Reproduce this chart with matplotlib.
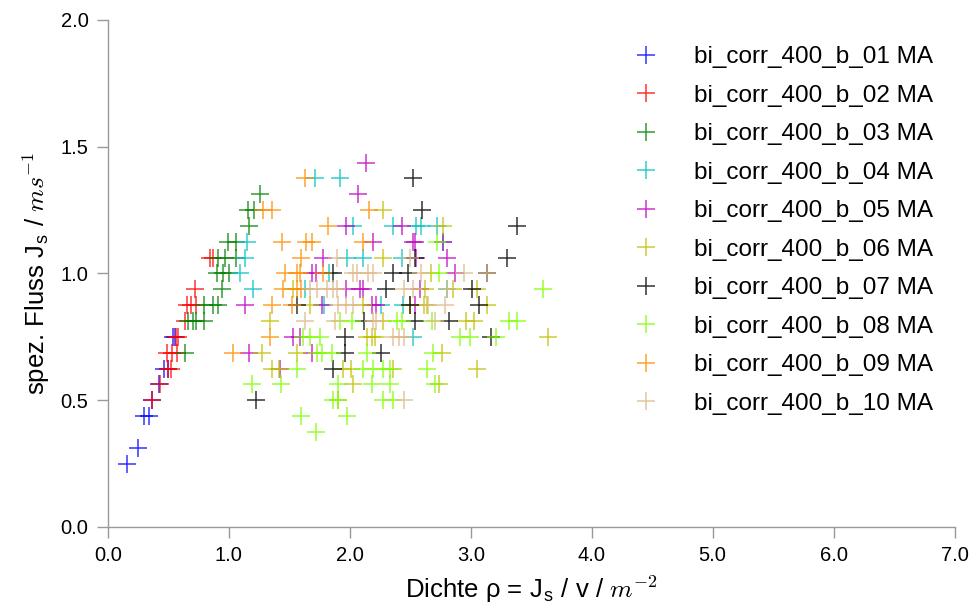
import numpy as np
from matplotlib import pyplot as plt

plt.rcParams['font.family'] = ['Liberation Sans', 'DejaVu Sans']
plt.rcParams['mathtext.fontset'] = 'cm'

labels = ['bi_corr_400_b_%02d MA' % i for i in range(1, 11)]
colors = ['#0000ff', '#ff0000', '#008000', '#00c0c0', '#c000c0',
          '#bfbf00', '#000000', '#7fff00', '#ff8c00', '#deb887']

# dichte (x) / fluss (y) je Messung
x01 = [0.16, 0.25, 0.30, 0.34, 0.36, 0.42, 0.46, 0.50, 0.54, 0.55]
y01 = [0.25, 0.3125, 0.4375, 0.4375, 0.5, 0.5625, 0.625, 0.625, 0.75, 0.75]

x02 = [0.36, 0.43, 0.50, 0.52, 0.49, 0.53, 0.57, 0.56, 0.58, 0.64, 0.65, 0.69, 0.73, 0.72, 0.84, 0.87]
y02 = [0.5, 0.5625, 0.625, 0.625, 0.6875, 0.6875, 0.6875, 0.75, 0.75, 0.8125, 0.875, 0.875, 0.875, 0.9375, 1.0625, 1.0625]

x03 = [0.64, 0.66, 0.70, 0.73, 0.79, 0.79, 0.87, 0.91, 0.94, 0.90, 0.95, 1.00, 0.91, 0.97, 1.06,
       0.99, 1.06, 1.17, 1.16, 1.21, 1.26]
y03 = [0.6875, 0.8125, 0.8125, 0.8125, 0.8125, 0.875, 0.875, 0.875, 0.9375, 1.0, 1.0, 1.0, 1.0625, 1.0625, 1.0625,
       1.125, 1.125, 1.1875, 1.25, 1.25, 1.3125]

x04 = [1.09, 1.13, 1.15, 1.20, 1.71, 1.92, 2.03, 2.36, 2.55, 2.59, 2.72, 2.77, 1.98, 2.11, 2.43,
       1.83, 1.63, 1.79, 2.26, 2.44, 2.52, 2.80]
y04 = [1.0, 1.0625, 1.125, 0.9375, 1.375, 1.375, 1.1875, 1.1875, 1.1875, 1.1875, 1.1875, 1.125, 1.0625, 1.0625, 1.0625,
       1.0, 0.9375, 0.875, 0.875, 0.875, 0.75, 0.9375]

x05 = [2.13, 2.07, 1.97, 2.43, 2.19, 2.52, 2.54, 2.77, 1.78, 2.55, 2.80, 1.69, 1.72, 2.87, 1.97,
       2.08, 2.11, 2.58, 1.13, 1.77, 2.18, 2.22, 2.54, 1.53, 1.59, 1.17, 1.69, 1.42]
y05 = [1.4375, 1.3125, 1.1875, 1.1875, 1.125, 1.125, 1.125, 1.125, 1.0625, 1.0625, 1.0625, 1.0, 1.0, 1.0, 0.9375,
       0.9375, 0.9375, 0.9375, 0.875, 0.875, 0.875, 0.875, 0.875, 0.75, 0.75, 0.6875, 0.6875, 0.625]

x06 = [2.27, 2.77, 2.27, 2.67, 1.53, 2.62, 2.85, 3.05, 1.67, 2.11, 2.50, 2.61, 2.64, 3.13, 1.34, 2.27, 2.96,
       3.03, 2.14, 2.18, 2.21, 3.64, 1.27, 1.56, 2.76, 1.36, 1.41, 1.94, 2.01, 2.36, 3.05, 2.03, 2.74, 1.90]
y06 = [1.25, 1.1875, 1.0625, 1.0, 0.9375, 0.9375, 0.9375, 0.9375, 0.875, 0.875, 0.875, 0.875, 0.875, 0.875, 0.8125, 0.8125, 0.8125,
       0.8125, 0.75, 0.75, 0.75, 0.75, 0.6875, 0.6875, 0.6875, 0.625, 0.625, 0.625, 0.625, 0.625, 0.625, 0.5625, 0.5625, 0.5]

x07 = [2.52, 2.60, 3.38, 3.30, 2.54, 1.86, 2.36, 2.48, 3.13, 2.30, 3.01, 1.56, 2.50, 3.07, 2.12, 2.54,
       2.82, 1.96, 3.17, 1.96, 2.26, 1.86, 1.22]
y07 = [1.375, 1.25, 1.1875, 1.0625, 1.0625, 1.0, 1.0, 1.0, 1.0, 0.9375, 0.9375, 0.875, 0.875, 0.875, 0.8125, 0.8125,
       0.8125, 0.75, 0.75, 0.6875, 0.6875, 0.625, 0.5]

x08 = [2.72, 2.74, 3.60, 1.92, 2.02, 2.39, 2.43, 2.68, 3.32, 3.38, 1.61, 1.67, 1.75, 2.91, 2.99, 3.21,
       1.73, 1.77, 1.85, 2.14, 2.69, 1.56, 2.11, 2.19, 2.27, 2.33, 2.64, 1.19, 1.43, 1.90, 2.18, 2.33,
       2.70, 1.86, 1.90, 2.27, 2.36, 1.60, 1.98, 1.72]
y08 = [1.125, 1.0, 0.9375, 0.8125, 0.8125, 0.8125, 0.8125, 0.8125, 0.8125, 0.8125, 0.75, 0.75, 0.75, 0.75, 0.75, 0.75,
       0.6875, 0.6875, 0.6875, 0.6875, 0.6875, 0.625, 0.625, 0.625, 0.625, 0.625, 0.625, 0.5625, 0.5625, 0.5625, 0.5625, 0.5625,
       0.5625, 0.5, 0.5, 0.5, 0.5, 0.4375, 0.4375, 0.375]

x09 = [1.63, 1.28, 1.36, 2.16, 1.82, 1.44, 1.64, 1.69, 2.11, 1.60, 1.46, 1.56, 1.59, 1.78, 1.45,
       1.56, 1.60, 1.36, 1.52, 1.34, 1.03]
y09 = [1.375, 1.25, 1.25, 1.25, 1.1875, 1.125, 1.125, 1.125, 1.125, 1.0625, 1.0, 1.0, 1.0, 1.0, 0.9375,
       0.9375, 0.9375, 0.875, 0.875, 0.75, 0.6875]

x10 = [1.89, 2.50, 2.03, 2.06, 2.15, 2.19, 2.59, 2.94, 3.13, 1.67, 1.73, 1.81, 1.86, 1.89, 2.45, 2.52,
       2.80, 1.90, 1.97, 2.03, 2.65, 2.79, 1.63, 1.88, 2.19, 2.22, 2.70, 2.36, 2.41, 2.45, 2.45]
y10 = [1.0625, 1.0625, 1.0, 1.0, 1.0, 1.0, 1.0, 1.0, 1.0, 0.9375, 0.9375, 0.9375, 0.9375, 0.9375, 0.9375, 0.9375,
       0.9375, 0.875, 0.875, 0.875, 0.875, 0.875, 0.8125, 0.8125, 0.8125, 0.8125, 0.8125, 0.75, 0.75, 0.75, 0.5]

xs = [x01, x02, x03, x04, x05, x06, x07, x08, x09, x10]
ys = [y01, y02, y03, y04, y05, y06, y07, y08, y09, y10]

fig = plt.figure(figsize=(9.73, 6.05), dpi=100)
ax = fig.add_axes([0.111, 0.129, 0.870, 0.838])

for x, y, c, lab in zip(xs, ys, colors, labels):
    ax.plot(x, y, '+', color=c, ms=13, mew=1.1, alpha=0.8, label=lab)

ax.set_xlim(0, 7)
ax.set_ylim(0, 2)
ax.set_xticks(np.arange(0, 8, 1.0))
ax.set_yticks(np.arange(0, 2.5, 0.5))
ax.set_xticklabels(['%.1f' % v for v in np.arange(0, 8, 1.0)])
ax.set_yticklabels(['%.1f' % v for v in np.arange(0, 2.5, 0.5)])

for s in ['top', 'right']:
    ax.spines[s].set_visible(False)
for s in ['left', 'bottom']:
    ax.spines[s].set_color('#999999')
    ax.spines[s].set_linewidth(1.0)
ax.tick_params(colors='#999999', labelcolor='black', labelsize=14.5, length=8, width=1, pad=6)

ax.set_xlabel(u'Dichte \u03c1 = J$_\\mathregular{s}$ / v / $m^{-2}$', fontsize=18.5, labelpad=6)
ax.set_ylabel(u'spez. Fluss J$_\\mathregular{s}$ / $ms^{-1}$', fontsize=18.5, labelpad=6)

ax.legend(loc='upper left', bbox_to_anchor=(0.626, 0.960), bbox_transform=fig.transFigure,
          frameon=False, numpoints=1, fontsize=17.5, labelspacing=0.68,
          handletextpad=1.4, handlelength=1.2)

plt.savefig('out.png', dpi=100)
